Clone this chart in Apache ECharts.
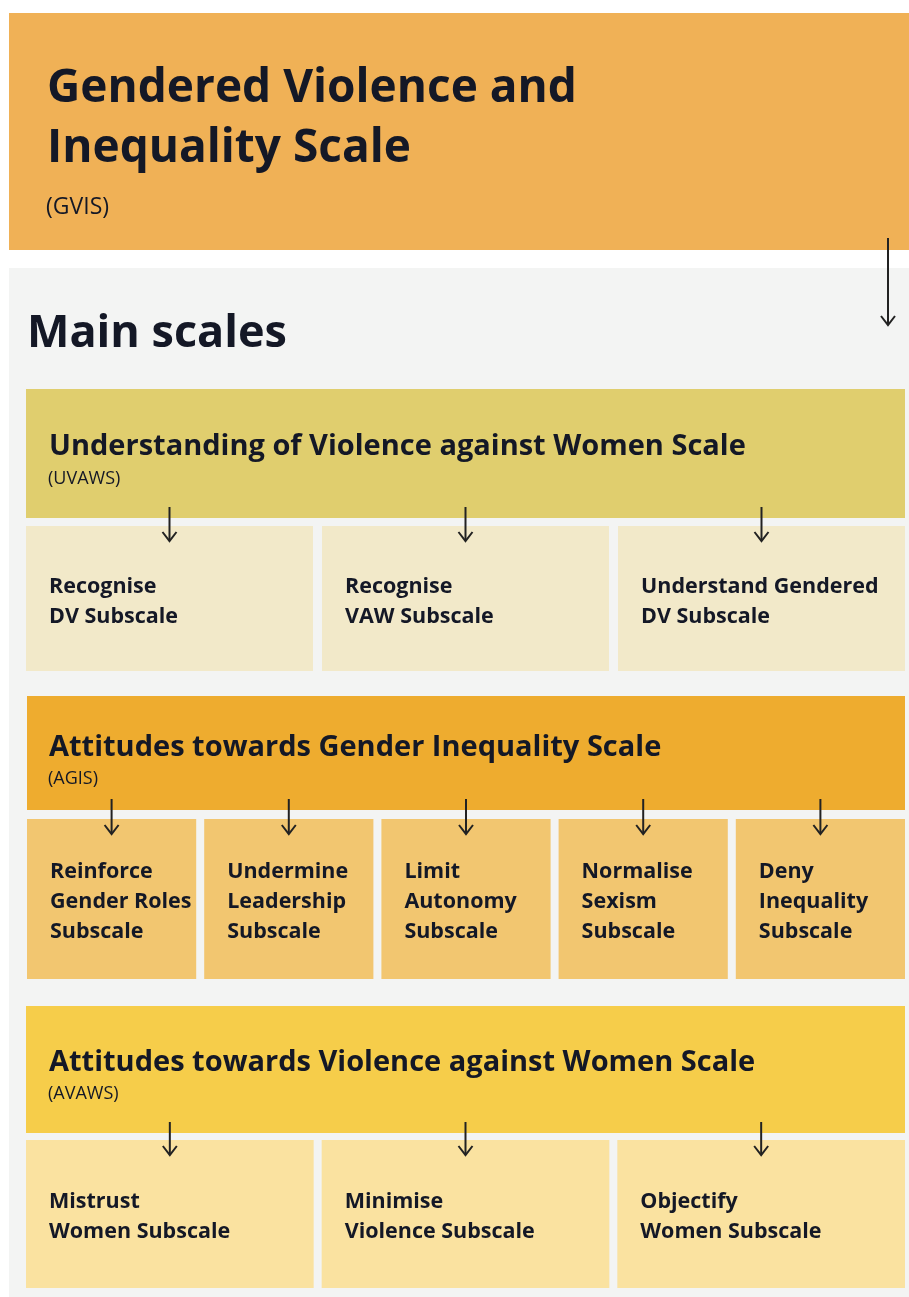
<!DOCTYPE html>
<html><head><meta charset="utf-8">
<script src="https://cdn.jsdelivr.net/npm/echarts@6/dist/echarts.min.js"></script>
<style>html,body{margin:0;padding:0;background:#fff}#c{width:909px;height:1297px}</style>
</head><body><div id="c"></div>
<script>
// ---- content ----
const titleLines = ['Gendered Violence and', 'Inequality Scale'];
const titleAbbr = '(GVIS)';
const sectionTitle = 'Main scales';
const scaleNames = [
  'Understanding of Violence against Women Scale',
  'Attitudes towards Gender Inequality Scale',
  'Attitudes towards Violence against Women Scale'
];
const scaleAbbrs = ['(UVAWS)', '(AGIS)', '(AVAWS)'];
const uvawsSubscales = [['Recognise', 'DV Subscale'], ['Recognise', 'VAW Subscale'], ['Understand Gendered', 'DV Subscale']];
const agisSubscales = [['Reinforce', 'Gender Roles', 'Subscale'], ['Undermine', 'Leadership', 'Subscale'], ['Limit', 'Autonomy', 'Subscale'], ['Normalise', 'Sexism', 'Subscale'], ['Deny', 'Inequality', 'Subscale']];
const avawsSubscales = [['Mistrust', 'Women Subscale'], ['Minimise', 'Violence Subscale'], ['Objectify', 'Women Subscale']];
const subscaleGroups = [uvawsSubscales, agisSubscales, avawsSubscales];

// ---- layout / style ----
const FONT = '"Open Sans", "Noto Sans", sans-serif';
const TEXT = '#141826';
const ARROW = '#222222';
const blocks = [
  {hTop: 389, hBot: 518, sTop: 526, sBot: 671, tY: 58, aY: 90, lY: 61, hFill: '#E0CE6E', sFill: '#F2E9C9', x0: 26, x1: 905, gap: 9},
  {hTop: 696, hBot: 810, sTop: 819, sBot: 979, tY: 52, aY: 83, lY: 53, hFill: '#EEAC2F', sFill: '#F2C670', x0: 27, x1: 905, gap: 8},
  {hTop: 1006, hBot: 1133, sTop: 1140, sBot: 1288, tY: 57, aY: 88, lY: 62, hFill: '#F6CD4A', sFill: '#FAE2A0', x0: 26, x1: 905, gap: 8}
];

const els = [];
function rect(x, y, w, h, fill) {
  els.push({type: 'rect', shape: {x: x, y: y, width: w, height: h}, style: {fill: fill}, silent: true});
}
function text(x, y, t, size, weight) {
  els.push({type: 'text', x: x, y: y, style: {text: t, fill: TEXT, font: weight + ' ' + size + 'px ' + FONT, align: 'left', verticalAlign: 'middle'}, silent: true});
}
function arrow(x, y0, y1) {
  els.push({type: 'polyline', shape: {points: [[x, y0], [x, y1]]}, style: {stroke: ARROW, lineWidth: 2, fill: null}, silent: true});
  els.push({type: 'polyline', shape: {points: [[x - 7, y1 - 9], [x, y1], [x + 7, y1 - 9]]}, style: {stroke: ARROW, lineWidth: 2, fill: null}, silent: true});
}

// top banner
rect(9, 13, 900, 237, '#F0B156');
titleLines.forEach(function (t, i) { text(47, 89 + i * 60, t, 46, 'bold'); });
text(46, 207, titleAbbr, 23, 'normal');
// gray panel
rect(9, 268, 900, 1029, '#F3F4F3');
arrow(888, 238, 325);
text(27, 334, sectionTitle, 45, 'bold');

blocks.forEach(function (b, bi) {
  rect(b.x0, b.hTop, b.x1 - b.x0, b.hBot - b.hTop, b.hFill);
  text(49, b.hTop + b.tY, scaleNames[bi], 29, 'bold');
  text(48, b.hTop + b.aY, scaleAbbrs[bi], 18, 'normal');
  const subs = subscaleGroups[bi];
  const n = subs.length;
  const w = (b.x1 - b.x0 - b.gap * (n - 1)) / n;
  subs.forEach(function (lines, i) {
    const x = b.x0 + i * (w + b.gap);
    rect(x, b.sTop, w, b.sBot - b.sTop, b.sFill);
    lines.forEach(function (l, j) { text(x + 23, b.sTop + b.lY + j * 30, l, 21.5, 'bold'); });
  });
  subs.forEach(function (lines, i) {
    const cx = b.x0 + i * (w + b.gap) + w / 2;
    arrow(cx, b.hBot - 11, b.sTop + 15);
  });
});

const chart = echarts.init(document.getElementById('c'), null, {renderer: 'canvas'});
chart.setOption({animation: false, backgroundColor: '#ffffff', graphic: {elements: els}});
</script>
</body></html>
